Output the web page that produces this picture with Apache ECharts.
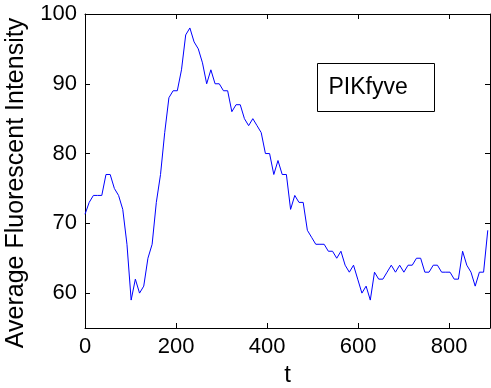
<!DOCTYPE html>
<html>
<head>
<meta charset="utf-8">
<script src="https://cdn.jsdelivr.net/npm/echarts@6/dist/echarts.min.js"></script>
<style>
  html, body { margin: 0; padding: 0; background: #fff; }
  #chart { width: 491px; height: 388px; }
</style>
</head>
<body>
<div id="chart"></div>
<script>
// Sampling interval between frames (t units)
const sampleInterval = 9.22;

// Mean fluorescent intensity per frame
const intensity = [
  71.3, 73, 74, 74, 74, 77, 77, 75, 74, 72,
  67, 59, 62, 60, 61, 65, 67, 73, 77, 83,
  88, 89, 89, 92, 97, 98, 96, 95, 93, 90,
  92, 90, 90, 89, 89, 86, 87, 87, 85, 84,
  85, 84, 83, 80, 80, 77, 79, 77, 77, 72,
  74, 73, 73, 69, 68, 67, 67, 67, 66, 66,
  65, 66, 64, 63, 64, 62, 60, 61, 59, 63,
  62, 62, 63, 64, 63, 64, 63, 64, 64, 65,
  65, 63, 63, 64, 64, 63, 63, 63, 62, 62,
  66, 64, 63, 61, 63, 63, 69
];

const seriesName = 'PIKfyve';
const xTicks = [0, 200, 400, 600, 800];
const yTicks = [60, 70, 80, 90, 100];
const xRange = [0, 890];
const yRange = [55, 100];

const points = intensity.map((v, i) => [i * sampleInterval, v]);

const font = "'Liberation Sans', Arial, Helvetica, sans-serif";
const black = '#000';

function baseAxis(extra) {
  return Object.assign({
    type: 'value',
    axisLine: { show: true, onZero: false, lineStyle: { color: black, width: 1 } },
    splitLine: { show: false },
  }, extra);
}

const chart = echarts.init(document.getElementById('chart'), null, { renderer: 'canvas' });

chart.setOption({
  animation: false,
  backgroundColor: '#fff',
  grid: { left: 85, right: 1, top: 14, bottom: 60, containLabel: false, outerBoundsMode: 'none' },
  xAxis: [
    baseAxis({
      position: 'bottom',
      min: xRange[0], max: xRange[1],
      name: 't',
      nameLocation: 'middle',
      nameGap: 34,
      nameTextStyle: { fontFamily: font, fontSize: 24, color: black },
      axisTick: { show: true, inside: true, length: 5, customValues: xTicks, lineStyle: { color: black } },
      axisLabel: { show: true, customValues: xTicks, margin: 8, fontFamily: font, fontSize: 22, color: black },
    }),
    baseAxis({
      position: 'top',
      min: xRange[0], max: xRange[1],
      axisTick: { show: true, inside: true, length: 5, customValues: xTicks, lineStyle: { color: black } },
      axisLabel: { show: false },
    }),
  ],
  yAxis: [
    baseAxis({
      position: 'left',
      min: yRange[0], max: yRange[1],
      name: 'Average Fluorescent Intensity',
      nameLocation: 'middle',
      nameRotate: 90,
      nameGap: 56,
      nameTextStyle: { fontFamily: font, fontSize: 25, color: black, padding: [0, 24, 0, 0] },
      axisTick: { show: true, inside: true, length: 5, customValues: yTicks, lineStyle: { color: black } },
      axisLabel: { show: true, customValues: yTicks, margin: 8, fontFamily: font, fontSize: 22, color: black },
    }),
    baseAxis({
      position: 'right',
      min: yRange[0], max: yRange[1],
      axisTick: { show: true, inside: true, length: 5, customValues: yTicks, lineStyle: { color: black } },
      axisLabel: { show: false },
    }),
  ],
  series: [{
    name: seriesName,
    type: 'line',
    xAxisIndex: 0,
    yAxisIndex: 0,
    data: points,
    showSymbol: false,
    symbol: 'none',
    lineStyle: { color: '#0000ff', width: 1 },
  }],
  graphic: [{
    type: 'group',
    left: 317,
    top: 63,
    children: [
      {
        type: 'rect',
        shape: { x: 0, y: 0, width: 117, height: 48 },
        style: { fill: '#fff', stroke: black, lineWidth: 1 },
      },
      {
        type: 'text',
        x: 11,
        y: 24,
        style: {
          text: seriesName,
          font: '23px ' + font,
          fill: black,
          textVerticalAlign: 'middle',
          verticalAlign: 'middle',
        },
      },
    ],
  }],
});
</script>
</body>
</html>
